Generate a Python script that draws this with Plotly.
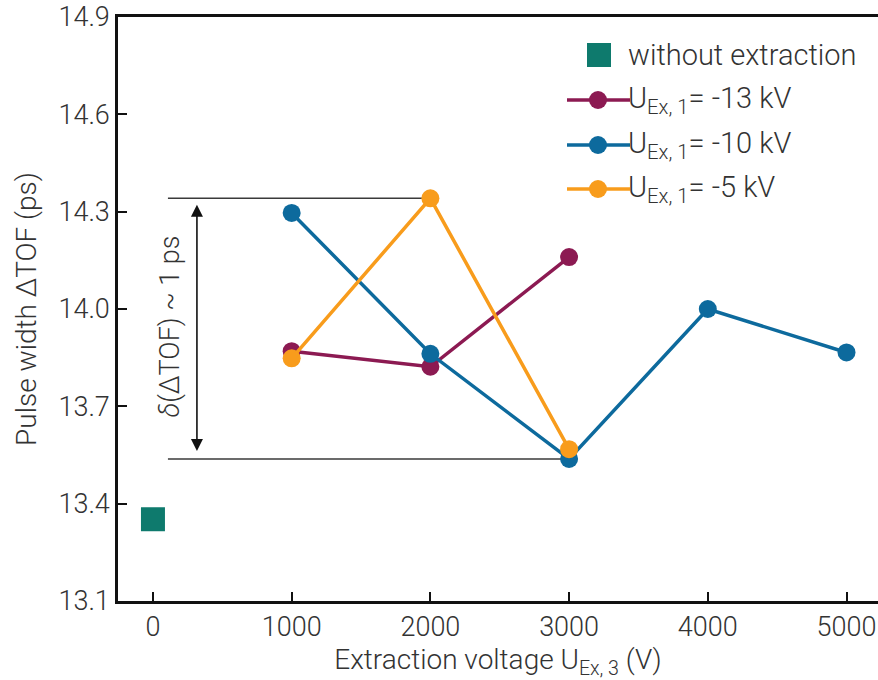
import plotly.graph_objects as go

# Extraction voltage U_Ex,3 (V) and pulse width ΔTOF (ps)
ref_x = [0]
ref_y = [13.352]

x_13kv = [1000, 2000, 3000]
y_13kv = [13.870, 13.822, 14.160]

x_10kv = [1000, 2000, 3000, 4000, 5000]
y_10kv = [14.296, 13.862, 13.538, 14.000, 13.866]

x_5kv = [1000, 2000, 3000]
y_5kv = [13.848, 14.341, 13.568]

x_ticks = [0, 1000, 2000, 3000, 4000, 5000]
y_ticks = [13.1, 13.4, 13.7, 14.0, 14.3, 14.6, 14.9]

C_REF = "#0e7a6d"
C_13 = "#8c1a52"
C_10 = "#0d6a9d"
C_5 = "#f89c1c"

FONT = dict(family="Roboto", size=27, color="#333333", weight=300)

W, H = 878, 680
ML, MR, MT, MB = 118, 0, 17, 79

fig = go.Figure()

fig.add_trace(go.Scatter(x=x_13kv, y=y_13kv, mode="lines+markers",
                         line=dict(color=C_13, width=3.5),
                         marker=dict(color=C_13, size=18), name="-13 kV"))
fig.add_trace(go.Scatter(x=x_10kv, y=y_10kv, mode="lines+markers",
                         line=dict(color=C_10, width=3.5),
                         marker=dict(color=C_10, size=18), name="-10 kV"))
fig.add_trace(go.Scatter(x=x_5kv, y=y_5kv, mode="lines+markers",
                         line=dict(color=C_5, width=3.5),
                         marker=dict(color=C_5, size=18), name="-5 kV"))
fig.add_trace(go.Scatter(x=ref_x, y=ref_y, mode="markers",
                         marker=dict(color=C_REF, size=24, symbol="square"),
                         name="without extraction"))

# spread of the pulse width: guide lines at the extremes and a double arrow
all_y = y_13kv + y_10kv + y_5kv
all_x = x_13kv + x_10kv + x_5kv
y_hi = max(all_y)
y_lo = min(all_y)
x_hi = all_x[all_y.index(y_hi)]
x_lo = all_x[all_y.index(y_lo)]
guide_x0 = 108
shapes = [
    dict(type="line", xref="x", yref="y", x0=guide_x0, x1=x_hi, y0=y_hi, y1=y_hi,
         line=dict(color="#3a3a3a", width=1.5), layer="below"),
    dict(type="line", xref="x", yref="y", x0=guide_x0, x1=x_lo, y0=y_lo, y1=y_lo,
         line=dict(color="#3a3a3a", width=1.5), layer="below"),
]
annotations = [
    dict(x=317, y=y_hi - 0.02, ax=317, ay=y_lo + 0.02, xref="x", yref="y",
         axref="x", ayref="y", showarrow=True, arrowhead=2, startarrowhead=2,
         arrowside="end+start", arrowsize=1.5, startarrowsize=1.5,
         arrowwidth=1.6, arrowcolor="#111111", text=""),
    dict(x=120, y=13.945, xref="x", yref="y", showarrow=False, textangle=-90,
         text="<i>δ</i>(ΔTOF) ~ 1 ps", font=dict(FONT, size=27)),
]


# legend drawn in pixel positions of the figure
def px(xp):
    return (xp - ML) / (W - ML - MR)


def py(yp):
    return (H - MB - yp) / (H - MT - MB)


legend_rows = [
    ("without extraction", C_REF, "square", 55),
    ("U<sub>Ex, 1</sub>= -13 kV", C_13, "line", 100),
    ("U<sub>Ex, 1</sub>= -10 kV", C_10, "line", 145),
    ("U<sub>Ex, 1</sub>= -5 kV", C_5, "line", 189),
]
for label, col, kind, yp in legend_rows:
    if kind == "square":
        shapes.append(dict(type="rect", xref="paper", yref="paper",
                           xsizemode="pixel", ysizemode="pixel",
                           xanchor=px(599), yanchor=py(yp),
                           x0=-12, x1=12, y0=-12, y1=12,
                           fillcolor=col, line=dict(width=0)))
    else:
        shapes.append(dict(type="line", xref="paper", yref="paper",
                           x0=px(567), x1=px(630), y0=py(yp), y1=py(yp),
                           line=dict(color=col, width=3.5)))
        shapes.append(dict(type="circle", xref="paper", yref="paper",
                           xsizemode="pixel", ysizemode="pixel",
                           xanchor=px(598), yanchor=py(yp),
                           x0=-9, x1=9, y0=-9, y1=9,
                           fillcolor=col, line=dict(width=0)))
    annotations.append(dict(x=px(626), y=py(yp), xref="paper", yref="paper",
                            xanchor="left", yanchor="middle", showarrow=False,
                            text=label, font=dict(FONT, size=29)))

axis_common = dict(showline=True, linecolor="#111111", linewidth=2.5,
                   ticks="inside", ticklen=9, tickwidth=2, tickcolor="#111111",
                   showgrid=False, zeroline=False, tickfont=FONT)

fig.update_layout(
    width=W, height=H,
    margin=dict(l=ML, r=MR, t=MT, b=MB),
    paper_bgcolor="white", plot_bgcolor="white",
    showlegend=False,
    shapes=shapes, annotations=annotations,
    xaxis=dict(axis_common, range=[-252, 5227], tickvals=x_ticks,
               mirror=True,
               title=dict(text="Extraction voltage U<sub>Ex, 3</sub> (V)",
                          font=dict(FONT, size=28), standoff=6)),
    yaxis=dict(axis_common, range=[13.1, 14.9], tickvals=y_ticks,
               tickformat=".1f",
               title=dict(text="Pulse width ΔTOF (ps)", font=dict(FONT, size=28),
                          standoff=14)),
)

fig.write_html("out.html")
